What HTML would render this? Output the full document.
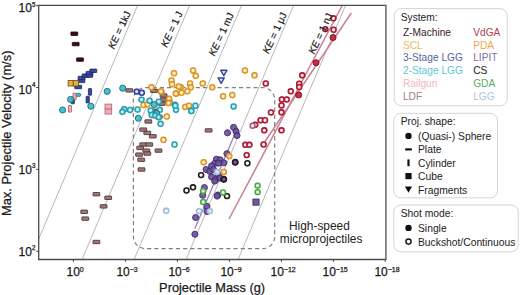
<!DOCTYPE html><html><head><meta charset="utf-8"><style>html,body{margin:0;padding:0;background:#fff;overflow:hidden}svg{display:block}</style></head><body><svg width="520" height="295" viewBox="0 0 520 295" font-family="'Liberation Sans', sans-serif">
<rect width="520" height="295" fill="#fff"/>
<defs><clipPath id="cp"><rect x="38.7" y="5.4" width="347.2" height="254.1"/></clipPath></defs>
<g clip-path="url(#cp)">
<line x1="144.4" y1="-10.8" x2="23.1" y2="275.9" stroke="#9a9a9a" stroke-width="0.7"/>
<line x1="196.4" y1="-10.8" x2="75.1" y2="275.9" stroke="#9a9a9a" stroke-width="0.7"/>
<line x1="248.4" y1="-10.8" x2="127.1" y2="275.9" stroke="#9a9a9a" stroke-width="0.7"/>
<line x1="300.4" y1="-10.8" x2="179.1" y2="275.9" stroke="#9a9a9a" stroke-width="0.7"/>
<line x1="352.4" y1="-10.8" x2="231.1" y2="275.9" stroke="#9a9a9a" stroke-width="0.7"/>
<rect x="133.4" y="87.6" width="141.3" height="161" rx="12" fill="none" stroke="#808080" stroke-width="1.2" stroke-dasharray="4.2,3"/>
<line x1="229" y1="219" x2="342.2" y2="5.5" stroke="#c98094" stroke-width="1.5"/>
<line x1="265" y1="141.5" x2="351.3" y2="13" stroke="#c98094" stroke-width="1.5"/>
<line x1="237.6" y1="127.5" x2="194.9" y2="228.5" stroke="#9484b8" stroke-width="1.3"/>
<rect x="70.9" y="32.0" width="6.8" height="3.4" rx="0.3" fill="#3d1016" stroke="#1a0508" stroke-width="0.85"/>
<rect x="72.3" y="42.4" width="6.8" height="3.4" rx="0.3" fill="#3d1016" stroke="#1a0508" stroke-width="0.85"/>
<rect x="76.6" y="57.9" width="6.8" height="3.4" rx="0.3" fill="#3d1016" stroke="#1a0508" stroke-width="0.85"/>
<rect x="78.0" y="79.2" width="6.8" height="3.4" rx="0.3" fill="#3a4a9c" stroke="#1c2660" stroke-width="0.85"/>
<rect x="78.2" y="76.3" width="6.8" height="3.4" rx="0.3" fill="#3a4a9c" stroke="#1c2660" stroke-width="0.85"/>
<rect x="82.2" y="73.9" width="6.8" height="3.4" rx="0.3" fill="#3a4a9c" stroke="#1c2660" stroke-width="0.85"/>
<rect x="85.9" y="73.9" width="6.8" height="3.4" rx="0.3" fill="#3a4a9c" stroke="#1c2660" stroke-width="0.85"/>
<rect x="86.1" y="71.4" width="6.8" height="3.4" rx="0.3" fill="#3a4a9c" stroke="#1c2660" stroke-width="0.85"/>
<rect x="89.9" y="69.1" width="6.8" height="3.4" rx="0.3" fill="#3a4a9c" stroke="#1c2660" stroke-width="0.85"/>
<rect x="74.8" y="85.3" width="6.8" height="3.4" rx="0.3" fill="#3a4a9c" stroke="#1c2660" stroke-width="0.85"/>
<rect x="88.4" y="88.6" width="3.2" height="6.6" rx="0.5" fill="#3a4a9c" stroke="#1c2660" stroke-width="0.8"/>
<rect x="86.1" y="96.3" width="3.2" height="6.6" rx="0.5" fill="#3a4a9c" stroke="#1c2660" stroke-width="0.8"/>
<rect x="71.2" y="97.2" width="3.2" height="6.6" rx="0.5" fill="#3a4a9c" stroke="#1c2660" stroke-width="0.8"/>
<circle cx="136.7" cy="91.6" r="2.45" fill="#dde2f5" fill-opacity="0.85" stroke="#34449a" stroke-width="1.55"/><circle cx="136.7" cy="91.6" r="3.05" fill="none" stroke="#1c2660" stroke-opacity="0.5" stroke-width="0.4"/>
<circle cx="141.8" cy="92.7" r="2.45" fill="#dde2f5" fill-opacity="0.85" stroke="#34449a" stroke-width="1.55"/><circle cx="141.8" cy="92.7" r="3.05" fill="none" stroke="#1c2660" stroke-opacity="0.5" stroke-width="0.4"/>
<path d="M220.7,70.3 L226.9,70.3 L223.8,75.6 Z" fill="#dde2f5" stroke="#34449a" stroke-width="1.4" stroke-linejoin="round"/>
<path d="M218.1,78.0 L224.3,78.0 L221.2,83.3 Z" fill="#dde2f5" stroke="#34449a" stroke-width="1.4" stroke-linejoin="round"/>
<rect x="68.1" y="80.4" width="5.2" height="5.6" fill="#e8b040" stroke="#6a4a10" stroke-width="0.8"/>
<rect x="73.2" y="80.4" width="5.2" height="5.6" fill="#e8b040" stroke="#6a4a10" stroke-width="0.8"/>
<rect x="76.1" y="93.3" width="4.6" height="3.1" rx="1.2" fill="#35bdcc" stroke="#176570" stroke-width="0.7"/>
<rect x="73.0" y="93.2" width="3.2" height="6.6" rx="0.5" fill="#f4a8b8" stroke="#9a5a6a" stroke-width="0.8"/>
<rect x="68.4" y="105.5" width="3.2" height="6.6" rx="0.5" fill="#f4a8b8" stroke="#9a5a6a" stroke-width="0.8"/>
<rect x="105" y="104.1" width="6.7" height="5" fill="#f4a8b8" stroke="#a86878" stroke-width="0.8"/><rect x="105" y="109.1" width="6.7" height="5" fill="#f4a8b8" stroke="#a86878" stroke-width="0.8"/>
<circle cx="107.2" cy="91.4" r="3.05" fill="#35bdcc" fill-opacity="0.92" stroke="#176570" stroke-width="0.9"/>
<circle cx="122.7" cy="88.2" r="3.05" fill="#35bdcc" fill-opacity="0.92" stroke="#176570" stroke-width="0.9"/>
<circle cx="90.8" cy="106.2" r="3.05" fill="#35bdcc" fill-opacity="0.92" stroke="#176570" stroke-width="0.9"/>
<circle cx="70.6" cy="99.5" r="3.05" fill="#35bdcc" fill-opacity="0.92" stroke="#176570" stroke-width="0.9"/>
<circle cx="62.6" cy="110.0" r="3.05" fill="#35bdcc" fill-opacity="0.92" stroke="#176570" stroke-width="0.9"/>
<circle cx="138.3" cy="118.3" r="3.05" fill="#35bdcc" fill-opacity="0.92" stroke="#176570" stroke-width="0.9"/>
<rect x="125.9" y="88.7" width="6.8" height="3.4" rx="0.3" fill="#a07878" stroke="#4a3030" stroke-width="0.85"/>
<rect x="150.6" y="89.1" width="6.8" height="3.4" rx="0.3" fill="#a07878" stroke="#4a3030" stroke-width="0.85"/>
<rect x="160.2" y="93.8" width="6.8" height="3.4" rx="0.3" fill="#a07878" stroke="#4a3030" stroke-width="0.85"/>
<rect x="160.5" y="97.9" width="6.8" height="3.4" rx="0.3" fill="#a07878" stroke="#4a3030" stroke-width="0.85"/>
<rect x="158.4" y="102.0" width="6.8" height="3.4" rx="0.3" fill="#a07878" stroke="#4a3030" stroke-width="0.85"/>
<rect x="152.3" y="109.1" width="6.8" height="3.4" rx="0.3" fill="#a07878" stroke="#4a3030" stroke-width="0.85"/>
<rect x="155.4" y="115.2" width="6.8" height="3.4" rx="0.3" fill="#a07878" stroke="#4a3030" stroke-width="0.85"/>
<rect x="150.3" y="114.2" width="6.8" height="3.4" rx="0.3" fill="#a07878" stroke="#4a3030" stroke-width="0.85"/>
<rect x="144.9" y="119.8" width="6.8" height="3.4" rx="0.3" fill="#a07878" stroke="#4a3030" stroke-width="0.85"/>
<rect x="139.8" y="127.9" width="6.8" height="3.4" rx="0.3" fill="#a07878" stroke="#4a3030" stroke-width="0.85"/>
<rect x="143.9" y="131.2" width="6.8" height="3.4" rx="0.3" fill="#a07878" stroke="#4a3030" stroke-width="0.85"/>
<rect x="149.4" y="134.6" width="6.8" height="3.4" rx="0.3" fill="#a07878" stroke="#4a3030" stroke-width="0.85"/>
<rect x="139.8" y="142.8" width="6.8" height="3.4" rx="0.3" fill="#a07878" stroke="#4a3030" stroke-width="0.85"/>
<rect x="145.9" y="142.8" width="6.8" height="3.4" rx="0.3" fill="#a07878" stroke="#4a3030" stroke-width="0.85"/>
<rect x="136.8" y="146.2" width="6.8" height="3.4" rx="0.3" fill="#a07878" stroke="#4a3030" stroke-width="0.85"/>
<rect x="142.9" y="148.9" width="6.8" height="3.4" rx="0.3" fill="#a07878" stroke="#4a3030" stroke-width="0.85"/>
<rect x="155.1" y="148.9" width="6.8" height="3.4" rx="0.3" fill="#a07878" stroke="#4a3030" stroke-width="0.85"/>
<rect x="135.7" y="152.9" width="6.8" height="3.4" rx="0.3" fill="#a07878" stroke="#4a3030" stroke-width="0.85"/>
<rect x="143.9" y="151.9" width="6.8" height="3.4" rx="0.3" fill="#a07878" stroke="#4a3030" stroke-width="0.85"/>
<rect x="137.8" y="158.0" width="6.8" height="3.4" rx="0.3" fill="#a07878" stroke="#4a3030" stroke-width="0.85"/>
<rect x="138.1" y="167.8" width="6.8" height="3.4" rx="0.3" fill="#a07878" stroke="#4a3030" stroke-width="0.85"/>
<rect x="93.0" y="192.5" width="6.8" height="3.4" rx="0.3" fill="#a07878" stroke="#4a3030" stroke-width="0.85"/>
<rect x="104.8" y="196.1" width="6.8" height="3.4" rx="0.3" fill="#a07878" stroke="#4a3030" stroke-width="0.85"/>
<rect x="100.2" y="204.7" width="6.8" height="3.4" rx="0.3" fill="#a07878" stroke="#4a3030" stroke-width="0.85"/>
<rect x="80.8" y="210.1" width="6.8" height="3.4" rx="0.3" fill="#a07878" stroke="#4a3030" stroke-width="0.85"/>
<rect x="81.9" y="216.9" width="6.8" height="3.4" rx="0.3" fill="#a07878" stroke="#4a3030" stroke-width="0.85"/>
<rect x="93.0" y="240.3" width="6.8" height="3.4" rx="0.3" fill="#a07878" stroke="#4a3030" stroke-width="0.85"/>
<rect x="205.2" y="128.7" width="6.8" height="3.4" rx="0.3" fill="#a07878" stroke="#4a3030" stroke-width="0.85"/>
<circle cx="174.0" cy="73.2" r="2.45" fill="#fff0c4" fill-opacity="0.85" stroke="#eca22e" stroke-width="1.55"/><circle cx="174.0" cy="73.2" r="3.05" fill="none" stroke="#6a4a10" stroke-opacity="0.5" stroke-width="0.4"/>
<circle cx="193.1" cy="70.4" r="2.45" fill="#fff0c4" fill-opacity="0.85" stroke="#eca22e" stroke-width="1.55"/><circle cx="193.1" cy="70.4" r="3.05" fill="none" stroke="#6a4a10" stroke-opacity="0.5" stroke-width="0.4"/>
<circle cx="195.7" cy="75.8" r="2.45" fill="#fff0c4" fill-opacity="0.85" stroke="#eca22e" stroke-width="1.55"/><circle cx="195.7" cy="75.8" r="3.05" fill="none" stroke="#6a4a10" stroke-opacity="0.5" stroke-width="0.4"/>
<circle cx="171.5" cy="80.4" r="2.45" fill="#fff0c4" fill-opacity="0.85" stroke="#eca22e" stroke-width="1.55"/><circle cx="171.5" cy="80.4" r="3.05" fill="none" stroke="#6a4a10" stroke-opacity="0.5" stroke-width="0.4"/>
<circle cx="172.0" cy="84.2" r="2.45" fill="#fff0c4" fill-opacity="0.85" stroke="#eca22e" stroke-width="1.55"/><circle cx="172.0" cy="84.2" r="3.05" fill="none" stroke="#6a4a10" stroke-opacity="0.5" stroke-width="0.4"/>
<circle cx="180.8" cy="87.3" r="2.45" fill="#fff0c4" fill-opacity="0.85" stroke="#eca22e" stroke-width="1.55"/><circle cx="180.8" cy="87.3" r="3.05" fill="none" stroke="#6a4a10" stroke-opacity="0.5" stroke-width="0.4"/>
<circle cx="190.0" cy="83.5" r="2.45" fill="#fff0c4" fill-opacity="0.85" stroke="#eca22e" stroke-width="1.55"/><circle cx="190.0" cy="83.5" r="3.05" fill="none" stroke="#6a4a10" stroke-opacity="0.5" stroke-width="0.4"/>
<circle cx="190.8" cy="87.3" r="2.45" fill="#fff0c4" fill-opacity="0.85" stroke="#eca22e" stroke-width="1.55"/><circle cx="190.8" cy="87.3" r="3.05" fill="none" stroke="#6a4a10" stroke-opacity="0.5" stroke-width="0.4"/>
<circle cx="202.8" cy="83.5" r="2.45" fill="#fff0c4" fill-opacity="0.85" stroke="#eca22e" stroke-width="1.55"/><circle cx="202.8" cy="83.5" r="3.05" fill="none" stroke="#6a4a10" stroke-opacity="0.5" stroke-width="0.4"/>
<circle cx="176.2" cy="93.5" r="2.45" fill="#fff0c4" fill-opacity="0.85" stroke="#eca22e" stroke-width="1.55"/><circle cx="176.2" cy="93.5" r="3.05" fill="none" stroke="#6a4a10" stroke-opacity="0.5" stroke-width="0.4"/>
<circle cx="181.5" cy="92.7" r="2.45" fill="#fff0c4" fill-opacity="0.85" stroke="#eca22e" stroke-width="1.55"/><circle cx="181.5" cy="92.7" r="3.05" fill="none" stroke="#6a4a10" stroke-opacity="0.5" stroke-width="0.4"/>
<circle cx="187.4" cy="91.2" r="2.45" fill="#fff0c4" fill-opacity="0.85" stroke="#eca22e" stroke-width="1.55"/><circle cx="187.4" cy="91.2" r="3.05" fill="none" stroke="#6a4a10" stroke-opacity="0.5" stroke-width="0.4"/>
<circle cx="161.5" cy="91.9" r="2.45" fill="#fff0c4" fill-opacity="0.85" stroke="#eca22e" stroke-width="1.55"/><circle cx="161.5" cy="91.9" r="3.05" fill="none" stroke="#6a4a10" stroke-opacity="0.5" stroke-width="0.4"/>
<circle cx="223.1" cy="96.2" r="2.45" fill="#fff0c4" fill-opacity="0.85" stroke="#eca22e" stroke-width="1.55"/><circle cx="223.1" cy="96.2" r="3.05" fill="none" stroke="#6a4a10" stroke-opacity="0.5" stroke-width="0.4"/>
<circle cx="232.3" cy="95.0" r="2.45" fill="#fff0c4" fill-opacity="0.85" stroke="#eca22e" stroke-width="1.55"/><circle cx="232.3" cy="95.0" r="3.05" fill="none" stroke="#6a4a10" stroke-opacity="0.5" stroke-width="0.4"/>
<circle cx="169.2" cy="98.8" r="2.45" fill="#fff0c4" fill-opacity="0.85" stroke="#eca22e" stroke-width="1.55"/><circle cx="169.2" cy="98.8" r="3.05" fill="none" stroke="#6a4a10" stroke-opacity="0.5" stroke-width="0.4"/>
<circle cx="151.4" cy="87.3" r="2.45" fill="#fff0c4" fill-opacity="0.85" stroke="#eca22e" stroke-width="1.55"/><circle cx="151.4" cy="87.3" r="3.05" fill="none" stroke="#6a4a10" stroke-opacity="0.5" stroke-width="0.4"/>
<circle cx="160.9" cy="91.3" r="2.45" fill="#fff0c4" fill-opacity="0.85" stroke="#eca22e" stroke-width="1.55"/><circle cx="160.9" cy="91.3" r="3.05" fill="none" stroke="#6a4a10" stroke-opacity="0.5" stroke-width="0.4"/>
<circle cx="245.0" cy="70.4" r="2.45" fill="#fff0c4" fill-opacity="0.85" stroke="#eca22e" stroke-width="1.55"/><circle cx="245.0" cy="70.4" r="3.05" fill="none" stroke="#6a4a10" stroke-opacity="0.5" stroke-width="0.4"/>
<circle cx="254.5" cy="75.3" r="2.45" fill="#fff0c4" fill-opacity="0.85" stroke="#eca22e" stroke-width="1.55"/><circle cx="254.5" cy="75.3" r="3.05" fill="none" stroke="#6a4a10" stroke-opacity="0.5" stroke-width="0.4"/>
<circle cx="185.2" cy="106.9" r="2.45" fill="#fff0c4" fill-opacity="0.85" stroke="#eca22e" stroke-width="1.55"/><circle cx="185.2" cy="106.9" r="3.05" fill="none" stroke="#6a4a10" stroke-opacity="0.5" stroke-width="0.4"/>
<circle cx="189.0" cy="105.7" r="2.45" fill="#fff0c4" fill-opacity="0.85" stroke="#eca22e" stroke-width="1.55"/><circle cx="189.0" cy="105.7" r="3.05" fill="none" stroke="#6a4a10" stroke-opacity="0.5" stroke-width="0.4"/>
<circle cx="166.8" cy="116.5" r="2.45" fill="#fff0c4" fill-opacity="0.85" stroke="#eca22e" stroke-width="1.55"/><circle cx="166.8" cy="116.5" r="3.05" fill="none" stroke="#6a4a10" stroke-opacity="0.5" stroke-width="0.4"/>
<circle cx="170.0" cy="102.7" r="2.45" fill="#fff0c4" fill-opacity="0.85" stroke="#eca22e" stroke-width="1.55"/><circle cx="170.0" cy="102.7" r="3.05" fill="none" stroke="#6a4a10" stroke-opacity="0.5" stroke-width="0.4"/>
<circle cx="143.6" cy="105.0" r="2.45" fill="#fff0c4" fill-opacity="0.85" stroke="#eca22e" stroke-width="1.55"/><circle cx="143.6" cy="105.0" r="3.05" fill="none" stroke="#6a4a10" stroke-opacity="0.5" stroke-width="0.4"/>
<circle cx="147.6" cy="104.2" r="2.45" fill="#fff0c4" fill-opacity="0.85" stroke="#eca22e" stroke-width="1.55"/><circle cx="147.6" cy="104.2" r="3.05" fill="none" stroke="#6a4a10" stroke-opacity="0.5" stroke-width="0.4"/>
<circle cx="168.6" cy="103.1" r="2.45" fill="#fff0c4" fill-opacity="0.85" stroke="#eca22e" stroke-width="1.55"/><circle cx="168.6" cy="103.1" r="3.05" fill="none" stroke="#6a4a10" stroke-opacity="0.5" stroke-width="0.4"/>
<circle cx="163.5" cy="139.8" r="2.45" fill="#fff0c4" fill-opacity="0.85" stroke="#eca22e" stroke-width="1.55"/><circle cx="163.5" cy="139.8" r="3.05" fill="none" stroke="#6a4a10" stroke-opacity="0.5" stroke-width="0.4"/>
<circle cx="178.7" cy="86.5" r="2.45" fill="#fff0c4" fill-opacity="0.85" stroke="#eca22e" stroke-width="1.55"/><circle cx="178.7" cy="86.5" r="3.05" fill="none" stroke="#6a4a10" stroke-opacity="0.5" stroke-width="0.4"/>
<circle cx="175.8" cy="93.6" r="2.45" fill="#fff0c4" fill-opacity="0.85" stroke="#eca22e" stroke-width="1.55"/><circle cx="175.8" cy="93.6" r="3.05" fill="none" stroke="#6a4a10" stroke-opacity="0.5" stroke-width="0.4"/>
<circle cx="212.3" cy="87.3" r="2.45" fill="#ffe8c0" fill-opacity="0.85" stroke="#f09a28" stroke-width="1.55"/><circle cx="212.3" cy="87.3" r="3.05" fill="none" stroke="#a06010" stroke-opacity="0.5" stroke-width="0.4"/>
<circle cx="141.5" cy="99.6" r="2.45" fill="#c8f4fa" fill-opacity="0.85" stroke="#2caaba" stroke-width="1.55"/><circle cx="141.5" cy="99.6" r="3.05" fill="none" stroke="#176570" stroke-opacity="0.5" stroke-width="0.4"/>
<circle cx="149.6" cy="100.7" r="2.45" fill="#c8f4fa" fill-opacity="0.85" stroke="#2caaba" stroke-width="1.55"/><circle cx="149.6" cy="100.7" r="3.05" fill="none" stroke="#176570" stroke-opacity="0.5" stroke-width="0.4"/>
<circle cx="158.8" cy="101.7" r="2.45" fill="#c8f4fa" fill-opacity="0.85" stroke="#2caaba" stroke-width="1.55"/><circle cx="158.8" cy="101.7" r="3.05" fill="none" stroke="#176570" stroke-opacity="0.5" stroke-width="0.4"/>
<circle cx="175.0" cy="104.7" r="2.45" fill="#c8f4fa" fill-opacity="0.85" stroke="#2caaba" stroke-width="1.55"/><circle cx="175.0" cy="104.7" r="3.05" fill="none" stroke="#176570" stroke-opacity="0.5" stroke-width="0.4"/>
<circle cx="176.0" cy="109.8" r="2.45" fill="#c8f4fa" fill-opacity="0.85" stroke="#2caaba" stroke-width="1.55"/><circle cx="176.0" cy="109.8" r="3.05" fill="none" stroke="#176570" stroke-opacity="0.5" stroke-width="0.4"/>
<circle cx="195.4" cy="105.7" r="2.45" fill="#c8f4fa" fill-opacity="0.85" stroke="#2caaba" stroke-width="1.55"/><circle cx="195.4" cy="105.7" r="3.05" fill="none" stroke="#176570" stroke-opacity="0.5" stroke-width="0.4"/>
<circle cx="191.3" cy="110.8" r="2.45" fill="#c8f4fa" fill-opacity="0.85" stroke="#2caaba" stroke-width="1.55"/><circle cx="191.3" cy="110.8" r="3.05" fill="none" stroke="#176570" stroke-opacity="0.5" stroke-width="0.4"/>
<circle cx="130.1" cy="109.9" r="2.45" fill="#c8f4fa" fill-opacity="0.85" stroke="#2caaba" stroke-width="1.55"/><circle cx="130.1" cy="109.9" r="3.05" fill="none" stroke="#176570" stroke-opacity="0.5" stroke-width="0.4"/>
<circle cx="124.2" cy="109.3" r="2.45" fill="#c8f4fa" fill-opacity="0.85" stroke="#2caaba" stroke-width="1.55"/><circle cx="124.2" cy="109.3" r="3.05" fill="none" stroke="#176570" stroke-opacity="0.5" stroke-width="0.4"/>
<circle cx="137.6" cy="109.5" r="2.45" fill="#c8f4fa" fill-opacity="0.85" stroke="#2caaba" stroke-width="1.55"/><circle cx="137.6" cy="109.5" r="3.05" fill="none" stroke="#176570" stroke-opacity="0.5" stroke-width="0.4"/>
<circle cx="150.7" cy="110.4" r="2.45" fill="#c8f4fa" fill-opacity="0.85" stroke="#2caaba" stroke-width="1.55"/><circle cx="150.7" cy="110.4" r="3.05" fill="none" stroke="#176570" stroke-opacity="0.5" stroke-width="0.4"/>
<circle cx="159.8" cy="109.8" r="2.45" fill="#c8f4fa" fill-opacity="0.85" stroke="#2caaba" stroke-width="1.55"/><circle cx="159.8" cy="109.8" r="3.05" fill="none" stroke="#176570" stroke-opacity="0.5" stroke-width="0.4"/>
<circle cx="151.7" cy="114.9" r="2.45" fill="#c8f4fa" fill-opacity="0.85" stroke="#2caaba" stroke-width="1.55"/><circle cx="151.7" cy="114.9" r="3.05" fill="none" stroke="#176570" stroke-opacity="0.5" stroke-width="0.4"/>
<circle cx="160.6" cy="123.8" r="2.45" fill="#c8f4fa" fill-opacity="0.85" stroke="#2caaba" stroke-width="1.55"/><circle cx="160.6" cy="123.8" r="3.05" fill="none" stroke="#176570" stroke-opacity="0.5" stroke-width="0.4"/>
<circle cx="174.5" cy="144.5" r="2.45" fill="#c8f4fa" fill-opacity="0.85" stroke="#2caaba" stroke-width="1.55"/><circle cx="174.5" cy="144.5" r="3.05" fill="none" stroke="#176570" stroke-opacity="0.5" stroke-width="0.4"/>
<circle cx="233.6" cy="106.4" r="2.45" fill="#c8f4fa" fill-opacity="0.85" stroke="#2caaba" stroke-width="1.55"/><circle cx="233.6" cy="106.4" r="3.05" fill="none" stroke="#176570" stroke-opacity="0.5" stroke-width="0.4"/>
<circle cx="175.3" cy="105.7" r="2.45" fill="#c8f4fa" fill-opacity="0.85" stroke="#2caaba" stroke-width="1.55"/><circle cx="175.3" cy="105.7" r="3.05" fill="none" stroke="#176570" stroke-opacity="0.5" stroke-width="0.4"/>
<circle cx="191.3" cy="111.0" r="2.45" fill="#c8f4fa" fill-opacity="0.85" stroke="#2caaba" stroke-width="1.55"/><circle cx="191.3" cy="111.0" r="3.05" fill="none" stroke="#176570" stroke-opacity="0.5" stroke-width="0.4"/>
<circle cx="122.4" cy="111.8" r="2.45" fill="#c8f4fa" fill-opacity="0.85" stroke="#2caaba" stroke-width="1.55"/><circle cx="122.4" cy="111.8" r="3.05" fill="none" stroke="#176570" stroke-opacity="0.5" stroke-width="0.4"/>
<circle cx="333.4" cy="18.3" r="2.45" fill="#ffe4ea" fill-opacity="0.85" stroke="#ae1e36" stroke-width="1.55"/><circle cx="333.4" cy="18.3" r="3.05" fill="none" stroke="#7a0e1e" stroke-opacity="0.5" stroke-width="0.4"/>
<circle cx="325.3" cy="29.1" r="2.45" fill="#ffe4ea" fill-opacity="0.85" stroke="#ae1e36" stroke-width="1.55"/><circle cx="325.3" cy="29.1" r="3.05" fill="none" stroke="#7a0e1e" stroke-opacity="0.5" stroke-width="0.4"/>
<circle cx="333.6" cy="29.8" r="2.45" fill="#ffe4ea" fill-opacity="0.85" stroke="#ae1e36" stroke-width="1.55"/><circle cx="333.6" cy="29.8" r="3.05" fill="none" stroke="#7a0e1e" stroke-opacity="0.5" stroke-width="0.4"/>
<circle cx="302.2" cy="75.3" r="2.45" fill="#ffe4ea" fill-opacity="0.85" stroke="#ae1e36" stroke-width="1.55"/><circle cx="302.2" cy="75.3" r="3.05" fill="none" stroke="#7a0e1e" stroke-opacity="0.5" stroke-width="0.4"/>
<circle cx="299.2" cy="83.7" r="2.45" fill="#ffe4ea" fill-opacity="0.85" stroke="#ae1e36" stroke-width="1.55"/><circle cx="299.2" cy="83.7" r="3.05" fill="none" stroke="#7a0e1e" stroke-opacity="0.5" stroke-width="0.4"/>
<circle cx="299.2" cy="87.0" r="2.45" fill="#ffe4ea" fill-opacity="0.85" stroke="#ae1e36" stroke-width="1.55"/><circle cx="299.2" cy="87.0" r="3.05" fill="none" stroke="#7a0e1e" stroke-opacity="0.5" stroke-width="0.4"/>
<circle cx="290.8" cy="91.3" r="2.45" fill="#ffe4ea" fill-opacity="0.85" stroke="#ae1e36" stroke-width="1.55"/><circle cx="290.8" cy="91.3" r="3.05" fill="none" stroke="#7a0e1e" stroke-opacity="0.5" stroke-width="0.4"/>
<circle cx="281.9" cy="99.5" r="2.45" fill="#ffe4ea" fill-opacity="0.85" stroke="#ae1e36" stroke-width="1.55"/><circle cx="281.9" cy="99.5" r="3.05" fill="none" stroke="#7a0e1e" stroke-opacity="0.5" stroke-width="0.4"/>
<circle cx="286.7" cy="99.5" r="2.45" fill="#ffe4ea" fill-opacity="0.85" stroke="#ae1e36" stroke-width="1.55"/><circle cx="286.7" cy="99.5" r="3.05" fill="none" stroke="#7a0e1e" stroke-opacity="0.5" stroke-width="0.4"/>
<circle cx="281.5" cy="105.4" r="2.45" fill="#ffe4ea" fill-opacity="0.85" stroke="#ae1e36" stroke-width="1.55"/><circle cx="281.5" cy="105.4" r="3.05" fill="none" stroke="#7a0e1e" stroke-opacity="0.5" stroke-width="0.4"/>
<circle cx="281.5" cy="112.3" r="2.45" fill="#ffe4ea" fill-opacity="0.85" stroke="#ae1e36" stroke-width="1.55"/><circle cx="281.5" cy="112.3" r="3.05" fill="none" stroke="#7a0e1e" stroke-opacity="0.5" stroke-width="0.4"/>
<circle cx="271.0" cy="112.5" r="2.45" fill="#ffe4ea" fill-opacity="0.85" stroke="#ae1e36" stroke-width="1.55"/><circle cx="271.0" cy="112.5" r="3.05" fill="none" stroke="#7a0e1e" stroke-opacity="0.5" stroke-width="0.4"/>
<circle cx="260.6" cy="120.2" r="2.45" fill="#ffe4ea" fill-opacity="0.85" stroke="#ae1e36" stroke-width="1.55"/><circle cx="260.6" cy="120.2" r="3.05" fill="none" stroke="#7a0e1e" stroke-opacity="0.5" stroke-width="0.4"/>
<circle cx="265.0" cy="120.2" r="2.45" fill="#ffe4ea" fill-opacity="0.85" stroke="#ae1e36" stroke-width="1.55"/><circle cx="265.0" cy="120.2" r="3.05" fill="none" stroke="#7a0e1e" stroke-opacity="0.5" stroke-width="0.4"/>
<circle cx="255.2" cy="124.8" r="2.45" fill="#ffe4ea" fill-opacity="0.85" stroke="#ae1e36" stroke-width="1.55"/><circle cx="255.2" cy="124.8" r="3.05" fill="none" stroke="#7a0e1e" stroke-opacity="0.5" stroke-width="0.4"/>
<circle cx="264.3" cy="130.3" r="2.45" fill="#ffe4ea" fill-opacity="0.85" stroke="#ae1e36" stroke-width="1.55"/><circle cx="264.3" cy="130.3" r="3.05" fill="none" stroke="#7a0e1e" stroke-opacity="0.5" stroke-width="0.4"/>
<circle cx="281.5" cy="130.3" r="2.45" fill="#ffe4ea" fill-opacity="0.85" stroke="#ae1e36" stroke-width="1.55"/><circle cx="281.5" cy="130.3" r="3.05" fill="none" stroke="#7a0e1e" stroke-opacity="0.5" stroke-width="0.4"/>
<circle cx="265.8" cy="83.5" r="2.45" fill="#ffe4ea" fill-opacity="0.85" stroke="#ae1e36" stroke-width="1.55"/><circle cx="265.8" cy="83.5" r="3.05" fill="none" stroke="#7a0e1e" stroke-opacity="0.5" stroke-width="0.4"/>
<circle cx="245.4" cy="144.8" r="2.45" fill="#ffe4ea" fill-opacity="0.85" stroke="#ae1e36" stroke-width="1.55"/><circle cx="245.4" cy="144.8" r="3.05" fill="none" stroke="#7a0e1e" stroke-opacity="0.5" stroke-width="0.4"/>
<circle cx="249.4" cy="144.8" r="2.45" fill="#ffe4ea" fill-opacity="0.85" stroke="#ae1e36" stroke-width="1.55"/><circle cx="249.4" cy="144.8" r="3.05" fill="none" stroke="#7a0e1e" stroke-opacity="0.5" stroke-width="0.4"/>
<circle cx="246.7" cy="155.1" r="2.45" fill="#ffe4ea" fill-opacity="0.85" stroke="#ae1e36" stroke-width="1.55"/><circle cx="246.7" cy="155.1" r="3.05" fill="none" stroke="#7a0e1e" stroke-opacity="0.5" stroke-width="0.4"/>
<circle cx="263.6" cy="144.5" r="2.45" fill="#ffe4ea" fill-opacity="0.85" stroke="#ae1e36" stroke-width="1.55"/><circle cx="263.6" cy="144.5" r="3.05" fill="none" stroke="#7a0e1e" stroke-opacity="0.5" stroke-width="0.4"/>
<circle cx="333.0" cy="37.5" r="3.05" fill="#c41e38" fill-opacity="0.92" stroke="#7a0e1e" stroke-width="0.9"/>
<circle cx="316.0" cy="62.7" r="3.05" fill="#c41e38" fill-opacity="0.92" stroke="#7a0e1e" stroke-width="0.9"/>
<circle cx="298.7" cy="95.0" r="3.05" fill="#c41e38" fill-opacity="0.92" stroke="#7a0e1e" stroke-width="0.9"/>
<circle cx="252.6" cy="125.8" r="2.45" fill="#f4e4ee" stroke="#a05a86" stroke-width="1.5"/>
<circle cx="227.5" cy="132.8" r="3.05" fill="#6c509c" fill-opacity="0.92" stroke="#3a2864" stroke-width="0.9"/>
<circle cx="233.6" cy="127.4" r="3.05" fill="#6c509c" fill-opacity="0.92" stroke="#3a2864" stroke-width="0.9"/>
<circle cx="236.0" cy="131.4" r="3.05" fill="#6c509c" fill-opacity="0.92" stroke="#3a2864" stroke-width="0.9"/>
<circle cx="237.0" cy="135.5" r="3.05" fill="#6c509c" fill-opacity="0.92" stroke="#3a2864" stroke-width="0.9"/>
<circle cx="226.9" cy="153.7" r="3.05" fill="#6c509c" fill-opacity="0.92" stroke="#3a2864" stroke-width="0.9"/>
<circle cx="216.5" cy="159.2" r="3.05" fill="#6c509c" fill-opacity="0.92" stroke="#3a2864" stroke-width="0.9"/>
<circle cx="220.1" cy="159.8" r="3.05" fill="#6c509c" fill-opacity="0.92" stroke="#3a2864" stroke-width="0.9"/>
<circle cx="223.8" cy="162.8" r="3.05" fill="#6c509c" fill-opacity="0.92" stroke="#3a2864" stroke-width="0.9"/>
<circle cx="214.7" cy="163.4" r="3.05" fill="#6c509c" fill-opacity="0.92" stroke="#3a2864" stroke-width="0.9"/>
<circle cx="218.5" cy="163.2" r="3.05" fill="#6c509c" fill-opacity="0.92" stroke="#3a2864" stroke-width="0.9"/>
<circle cx="211.6" cy="165.9" r="3.05" fill="#6c509c" fill-opacity="0.92" stroke="#3a2864" stroke-width="0.9"/>
<circle cx="206.1" cy="169.5" r="3.05" fill="#6c509c" fill-opacity="0.92" stroke="#3a2864" stroke-width="0.9"/>
<circle cx="209.8" cy="171.4" r="3.05" fill="#6c509c" fill-opacity="0.92" stroke="#3a2864" stroke-width="0.9"/>
<circle cx="213.5" cy="169.5" r="3.05" fill="#6c509c" fill-opacity="0.92" stroke="#3a2864" stroke-width="0.9"/>
<circle cx="211.6" cy="176.9" r="3.05" fill="#6c509c" fill-opacity="0.92" stroke="#3a2864" stroke-width="0.9"/>
<circle cx="215.9" cy="179.3" r="3.05" fill="#6c509c" fill-opacity="0.92" stroke="#3a2864" stroke-width="0.9"/>
<circle cx="218.3" cy="174.4" r="3.05" fill="#6c509c" fill-opacity="0.92" stroke="#3a2864" stroke-width="0.9"/>
<circle cx="220.1" cy="178.1" r="3.05" fill="#6c509c" fill-opacity="0.92" stroke="#3a2864" stroke-width="0.9"/>
<circle cx="214.7" cy="181.1" r="3.05" fill="#6c509c" fill-opacity="0.92" stroke="#3a2864" stroke-width="0.9"/>
<circle cx="223.8" cy="179.3" r="3.05" fill="#6c509c" fill-opacity="0.92" stroke="#3a2864" stroke-width="0.9"/>
<circle cx="217.9" cy="195.0" r="3.05" fill="#6c509c" fill-opacity="0.92" stroke="#3a2864" stroke-width="0.9"/>
<circle cx="207.0" cy="206.4" r="3.05" fill="#6c509c" fill-opacity="0.92" stroke="#3a2864" stroke-width="0.9"/>
<circle cx="207.0" cy="211.5" r="3.05" fill="#6c509c" fill-opacity="0.92" stroke="#3a2864" stroke-width="0.9"/>
<circle cx="195.6" cy="217.5" r="3.05" fill="#6c509c" fill-opacity="0.92" stroke="#3a2864" stroke-width="0.9"/>
<circle cx="194.9" cy="234.2" r="3.05" fill="#6c509c" fill-opacity="0.92" stroke="#3a2864" stroke-width="0.9"/>
<circle cx="202.7" cy="195.3" r="3.05" fill="#6c509c" fill-opacity="0.92" stroke="#3a2864" stroke-width="0.9"/>
<circle cx="204.4" cy="187.6" r="3.05" fill="#6c509c" fill-opacity="0.92" stroke="#3a2864" stroke-width="0.9"/>
<circle cx="217.1" cy="196.1" r="3.05" fill="#6c509c" fill-opacity="0.92" stroke="#3a2864" stroke-width="0.9"/>
<rect x="252.9" y="199" width="6.2" height="6.2" fill="#6c5a9c" stroke="#3a2864" stroke-width="0.8"/>
<circle cx="235.2" cy="162.2" r="3.05" fill="#6c509c" fill-opacity="0.92" stroke="#3a2864" stroke-width="0.9"/>
<circle cx="229.3" cy="156.1" r="2.45" fill="#ffe8c0" fill-opacity="0.85" stroke="#f09a28" stroke-width="1.55"/><circle cx="229.3" cy="156.1" r="3.05" fill="none" stroke="#a06010" stroke-opacity="0.5" stroke-width="0.4"/>
<circle cx="203.7" cy="162.2" r="2.45" fill="#ffe8c0" fill-opacity="0.85" stroke="#f09a28" stroke-width="1.55"/><circle cx="203.7" cy="162.2" r="3.05" fill="none" stroke="#a06010" stroke-opacity="0.5" stroke-width="0.4"/>
<circle cx="223.8" cy="172.0" r="2.45" fill="#ffe8c0" fill-opacity="0.85" stroke="#f09a28" stroke-width="1.55"/><circle cx="223.8" cy="172.0" r="3.05" fill="none" stroke="#a06010" stroke-opacity="0.5" stroke-width="0.4"/>
<circle cx="235.2" cy="162.2" r="2.45" fill="none" fill-opacity="0.85" stroke="#222222" stroke-width="1.55"/><circle cx="235.2" cy="162.2" r="3.05" fill="none" stroke="#111111" stroke-opacity="0.5" stroke-width="0.4"/>
<circle cx="247.4" cy="163.2" r="2.45" fill="none" fill-opacity="0.85" stroke="#222222" stroke-width="1.55"/><circle cx="247.4" cy="163.2" r="3.05" fill="none" stroke="#111111" stroke-opacity="0.5" stroke-width="0.4"/>
<circle cx="201.1" cy="175.1" r="2.45" fill="none" fill-opacity="0.85" stroke="#222222" stroke-width="1.55"/><circle cx="201.1" cy="175.1" r="3.05" fill="none" stroke="#111111" stroke-opacity="0.5" stroke-width="0.4"/>
<circle cx="223.8" cy="179.3" r="2.45" fill="none" fill-opacity="0.85" stroke="#222222" stroke-width="1.55"/><circle cx="223.8" cy="179.3" r="3.05" fill="none" stroke="#111111" stroke-opacity="0.5" stroke-width="0.4"/>
<circle cx="186.5" cy="190.5" r="2.45" fill="none" fill-opacity="0.85" stroke="#222222" stroke-width="1.55"/><circle cx="186.5" cy="190.5" r="3.05" fill="none" stroke="#111111" stroke-opacity="0.5" stroke-width="0.4"/>
<circle cx="193.0" cy="187.3" r="2.45" fill="none" fill-opacity="0.85" stroke="#222222" stroke-width="1.55"/><circle cx="193.0" cy="187.3" r="3.05" fill="none" stroke="#111111" stroke-opacity="0.5" stroke-width="0.4"/>
<circle cx="227.0" cy="196.1" r="2.45" fill="none" fill-opacity="0.85" stroke="#222222" stroke-width="1.55"/><circle cx="227.0" cy="196.1" r="3.05" fill="none" stroke="#111111" stroke-opacity="0.5" stroke-width="0.4"/>
<circle cx="257.6" cy="185.6" r="2.45" fill="#e4f6e4" fill-opacity="0.85" stroke="#4cb04c" stroke-width="1.55"/><circle cx="257.6" cy="185.6" r="3.05" fill="none" stroke="#2e7a2e" stroke-opacity="0.5" stroke-width="0.4"/>
<circle cx="257.6" cy="192.1" r="2.45" fill="#e4f6e4" fill-opacity="0.85" stroke="#4cb04c" stroke-width="1.55"/><circle cx="257.6" cy="192.1" r="3.05" fill="none" stroke="#2e7a2e" stroke-opacity="0.5" stroke-width="0.4"/>
<circle cx="223.0" cy="192.5" r="2.45" fill="#e4f6e4" fill-opacity="0.85" stroke="#4cb04c" stroke-width="1.55"/><circle cx="223.0" cy="192.5" r="3.05" fill="none" stroke="#2e7a2e" stroke-opacity="0.5" stroke-width="0.4"/>
<circle cx="203.2" cy="202.0" r="2.45" fill="#e4f6e4" fill-opacity="0.85" stroke="#4cb04c" stroke-width="1.55"/><circle cx="203.2" cy="202.0" r="3.05" fill="none" stroke="#2e7a2e" stroke-opacity="0.5" stroke-width="0.4"/>
<circle cx="203.2" cy="191.0" r="2.45" fill="#e4f6e4" fill-opacity="0.85" stroke="#4cb04c" stroke-width="1.55"/><circle cx="203.2" cy="191.0" r="3.05" fill="none" stroke="#2e7a2e" stroke-opacity="0.5" stroke-width="0.4"/>
<circle cx="166.2" cy="210.8" r="2.45" fill="#f6f9fd" fill-opacity="0.85" stroke="#a4c2e2" stroke-width="1.55"/><circle cx="166.2" cy="210.8" r="3.05" fill="none" stroke="#7090b8" stroke-opacity="0.5" stroke-width="0.4"/>
<circle cx="199.0" cy="211.1" r="2.45" fill="#f6f9fd" fill-opacity="0.85" stroke="#a4c2e2" stroke-width="1.55"/><circle cx="199.0" cy="211.1" r="3.05" fill="none" stroke="#7090b8" stroke-opacity="0.5" stroke-width="0.4"/>
<circle cx="209.8" cy="211.1" r="2.45" fill="#f6f9fd" fill-opacity="0.85" stroke="#a4c2e2" stroke-width="1.55"/><circle cx="209.8" cy="211.1" r="3.05" fill="none" stroke="#7090b8" stroke-opacity="0.5" stroke-width="0.4"/>
<circle cx="217.1" cy="172.0" r="2.45" fill="#f6f9fd" fill-opacity="0.85" stroke="#a4c2e2" stroke-width="1.55"/><circle cx="217.1" cy="172.0" r="3.05" fill="none" stroke="#7090b8" stroke-opacity="0.5" stroke-width="0.4"/>
<circle cx="154.3" cy="104.6" r="3.05" fill="#35bdcc" fill-opacity="0.92" stroke="#176570" stroke-width="0.9"/>
<circle cx="156.6" cy="113.3" r="3.05" fill="#35bdcc" fill-opacity="0.92" stroke="#176570" stroke-width="0.9"/>
<circle cx="155.4" cy="115.6" r="2.45" fill="#c8f4fa" fill-opacity="0.85" stroke="#2caaba" stroke-width="1.55"/><circle cx="155.4" cy="115.6" r="3.05" fill="none" stroke="#176570" stroke-opacity="0.5" stroke-width="0.4"/>
<circle cx="158.7" cy="117.2" r="2.45" fill="#c8f4fa" fill-opacity="0.85" stroke="#2caaba" stroke-width="1.55"/><circle cx="158.7" cy="117.2" r="3.05" fill="none" stroke="#176570" stroke-opacity="0.5" stroke-width="0.4"/>
</g>
<text x="0" y="3.6" font-size="10" fill="#222" stroke="#222" stroke-width="0.2" text-anchor="middle" transform="translate(119.3 30.0) rotate(-65)"><tspan font-style="italic">KE</tspan> = 1kJ</text>
<text x="0" y="3.6" font-size="10" fill="#222" stroke="#222" stroke-width="0.2" text-anchor="middle" transform="translate(171.6 29.1) rotate(-65)"><tspan font-style="italic">KE</tspan> = 1 J</text>
<text x="0" y="3.6" font-size="10" fill="#222" stroke="#222" stroke-width="0.2" text-anchor="middle" transform="translate(221.1 34.2) rotate(-65)"><tspan font-style="italic">KE</tspan> = 1 mJ</text>
<text x="0" y="3.6" font-size="10" fill="#222" stroke="#222" stroke-width="0.2" text-anchor="middle" transform="translate(274.6 32.9) rotate(-65)"><tspan font-style="italic">KE</tspan> = 1 μJ</text>
<text x="0" y="3.6" font-size="10" fill="#222" stroke="#222" stroke-width="0.2" text-anchor="middle" transform="translate(320.3 33.5) rotate(-65)"><tspan font-style="italic">KE</tspan> = 1 nJ</text>
<text x="319.4" y="230.2" font-size="11.9" fill="#222" text-anchor="middle">High-speed</text>
<text x="321.1" y="242.7" font-size="11.9" fill="#222" text-anchor="middle">microprojectiles</text>
<path d="M385.9,5.4 L38.7,5.4 L38.7,259.5 L385.9,259.5" fill="none" stroke="#4a4a4a" stroke-width="1.3"/>
<line x1="385.9" y1="4.800000000000001" x2="385.9" y2="260.1" stroke="#666" stroke-width="1.5"/>
<line x1="73.4" y1="259.5" x2="73.4" y2="261.8" stroke="#444" stroke-width="1"/>
<text y="276" font-size="12" fill="#1a1a1a" stroke="#1a1a1a" stroke-width="0.25" text-anchor="middle" x="75.1">10<tspan font-size="7" dy="-4.3">0</tspan></text>
<line x1="125.4" y1="259.5" x2="125.4" y2="261.8" stroke="#444" stroke-width="1"/>
<text y="276" font-size="12" fill="#1a1a1a" stroke="#1a1a1a" stroke-width="0.25" text-anchor="middle" x="127.1">10<tspan font-size="7" dy="-4.3">−3</tspan></text>
<line x1="177.4" y1="259.5" x2="177.4" y2="261.8" stroke="#444" stroke-width="1"/>
<text y="276" font-size="12" fill="#1a1a1a" stroke="#1a1a1a" stroke-width="0.25" text-anchor="middle" x="179.1">10<tspan font-size="7" dy="-4.3">−6</tspan></text>
<line x1="229.4" y1="259.5" x2="229.4" y2="261.8" stroke="#444" stroke-width="1"/>
<text y="276" font-size="12" fill="#1a1a1a" stroke="#1a1a1a" stroke-width="0.25" text-anchor="middle" x="231.1">10<tspan font-size="7" dy="-4.3">−9</tspan></text>
<line x1="281.4" y1="259.5" x2="281.4" y2="261.8" stroke="#444" stroke-width="1"/>
<text y="276" font-size="12" fill="#1a1a1a" stroke="#1a1a1a" stroke-width="0.25" text-anchor="middle" x="283.1">10<tspan font-size="7" dy="-4.3">−12</tspan></text>
<line x1="333.4" y1="259.5" x2="333.4" y2="261.8" stroke="#444" stroke-width="1"/>
<text y="276" font-size="12" fill="#1a1a1a" stroke="#1a1a1a" stroke-width="0.25" text-anchor="middle" x="335.1">10<tspan font-size="7" dy="-4.3">−15</tspan></text>
<line x1="385.3" y1="259.5" x2="385.3" y2="261.8" stroke="#444" stroke-width="1"/>
<text y="276" font-size="12" fill="#1a1a1a" stroke="#1a1a1a" stroke-width="0.25" text-anchor="middle" x="387.0">10<tspan font-size="7" dy="-4.3">−18</tspan></text>
<line x1="36.2" y1="5.6" x2="38.7" y2="5.6" stroke="#444" stroke-width="1"/>
<text x="18.6" y="12.2" font-size="12" fill="#1a1a1a" stroke="#1a1a1a" stroke-width="0.25">10<tspan font-size="6.3" dy="-5.4">5</tspan></text>
<line x1="36.2" y1="87.5" x2="38.7" y2="87.5" stroke="#444" stroke-width="1"/>
<text x="18.6" y="93.5" font-size="12" fill="#1a1a1a" stroke="#1a1a1a" stroke-width="0.25">10<tspan font-size="6.3" dy="-6.2">4</tspan></text>
<line x1="36.2" y1="169.4" x2="38.7" y2="169.4" stroke="#444" stroke-width="1"/>
<text x="18.6" y="174.3" font-size="12" fill="#1a1a1a" stroke="#1a1a1a" stroke-width="0.25">10<tspan font-size="6.3" dy="-6.2">3</tspan></text>
<line x1="36.2" y1="251.3" x2="38.7" y2="251.3" stroke="#444" stroke-width="1"/>
<text x="18.6" y="255.8" font-size="12" fill="#1a1a1a" stroke="#1a1a1a" stroke-width="0.25">10<tspan font-size="6.3" dy="-6.2">2</tspan></text>
<text x="212.1" y="292" font-size="12.8" fill="#1a1a1a" stroke="#1a1a1a" stroke-width="0.25" text-anchor="middle">Projectile Mass (g)</text>
<text transform="translate(11.2,133.3) rotate(-90)" font-size="12.9" fill="#1a1a1a" stroke="#1a1a1a" stroke-width="0.25" text-anchor="middle">Max. Projectile Velocity (m/s)</text>
<rect x="394.2" y="8.6" width="113" height="97.2" rx="7" fill="#fff" stroke="#d4d4d4" stroke-width="1"/>
<text x="400.8" y="20.6" font-size="10.2" fill="#222">System:</text>
<text x="402.9" y="35.8" font-size="10.2" fill="#3a2024">Z-Machine</text>
<text x="473.2" y="35.8" font-size="10.2" fill="#b23c52">VdGA</text>
<text x="402.9" y="48.6" font-size="10.2" fill="#e9bd6a">SCL</text>
<text x="473.2" y="48.6" font-size="10.2" fill="#f0a64a">PDA</text>
<text x="402.9" y="61.3" font-size="10.2" fill="#5563a6">3-Stage LGG</text>
<text x="473.2" y="61.3" font-size="10.2" fill="#7f6e9f">LIPIT</text>
<text x="402.9" y="74.1" font-size="10.2" fill="#5cc6d3">2-Stage LGG</text>
<text x="473.2" y="74.1" font-size="10.2" fill="#222">CS</text>
<text x="402.9" y="86.8" font-size="10.2" fill="#f2b4c2">Railgun</text>
<text x="473.2" y="86.8" font-size="10.2" fill="#5aae5a">GDA</text>
<text x="402.9" y="99.6" font-size="10.2" fill="#a48282">LDF</text>
<text x="473.2" y="99.6" font-size="10.2" fill="#aec6e0">LGG</text>
<rect x="393.8" y="113.3" width="103.7" height="84.5" rx="7" fill="#fff" stroke="#d4d4d4" stroke-width="1"/>
<text x="400.7" y="125.1" font-size="10.3" fill="#222">Proj. shape:</text>
<text x="418" y="140.1" font-size="10.3" fill="#222">(Quasi-) Sphere</text>
<text x="418" y="153.2" font-size="10.3" fill="#222">Plate</text>
<text x="418" y="166.8" font-size="10.3" fill="#222">Cylinder</text>
<text x="418" y="180.4" font-size="10.3" fill="#222">Cube</text>
<text x="418" y="193.6" font-size="10.3" fill="#222">Fragments</text>
<circle cx="408.5" cy="135.9" r="3.2" fill="#111"/>
<rect x="405.2" y="148.3" width="6.6" height="2.2" fill="#111"/>
<rect x="407.4" y="159.4" width="2.2" height="6.8" fill="#111"/>
<rect x="405.4" y="173" width="6.2" height="6.2" fill="#111"/>
<path d="M404.9,186.4 L412.1,186.4 L408.5,192.8 Z" fill="#111"/>
<rect x="393.8" y="205" width="124.4" height="46.8" rx="7" fill="#fff" stroke="#d4d4d4" stroke-width="1"/>
<text x="400.7" y="217.1" font-size="10.3" fill="#222">Shot mode:</text>
<text x="418" y="232.3" font-size="10.3" fill="#222">Single</text>
<text x="418" y="246" font-size="10.3" fill="#222">Buckshot/Continuous</text>
<circle cx="408.5" cy="227.9" r="3.2" fill="#111"/>
<circle cx="408.5" cy="241.6" r="2.6" fill="none" stroke="#111" stroke-width="1.4"/>
</svg></body></html>
